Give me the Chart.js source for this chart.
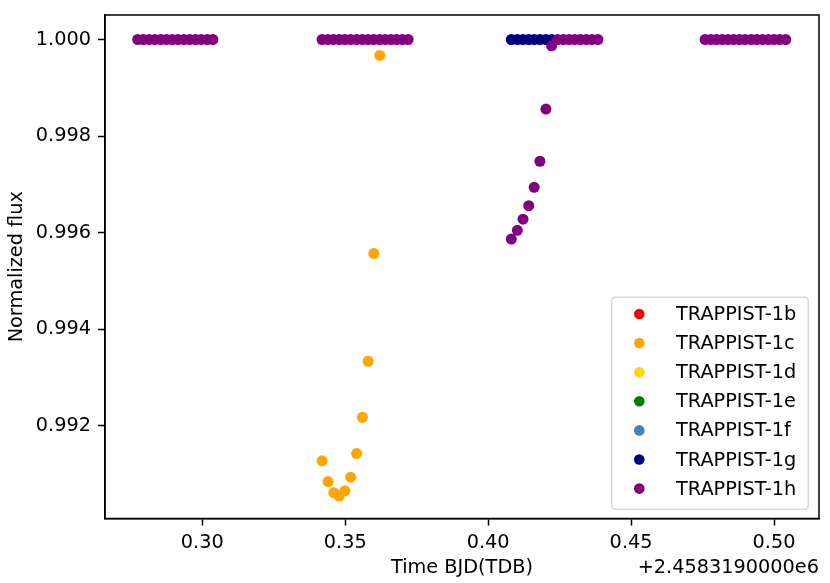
<!DOCTYPE html>
<html>
<head>
<meta charset="utf-8">
<script src="https://cdn.jsdelivr.net/npm/chart.js@4.4.1/dist/chart.umd.min.js"></script>
<style>
html,body{margin:0;padding:0;background:#fff;}
#c{display:block;}
</style>
</head>
<body>
<canvas id="c" width="830" height="583"></canvas>
<script>
// ---- Data (time offsets from 2458319.0 BJD, normalized flux) ----
const seriesNames = ["TRAPPIST-1b","TRAPPIST-1c","TRAPPIST-1d","TRAPPIST-1e","TRAPPIST-1f","TRAPPIST-1g","TRAPPIST-1h"];
const seriesColors = ["#ff0000","#ffa500","#ffd700","#008000","#4682b4","#000080","#800080"];

const bX = [], bY = [];
const cX = [0.3419,0.3440,0.3460,0.3479,0.3499,0.3519,0.3540,0.3560,0.3580,0.3600,0.3621];
const cY = [0.99128,0.99085,0.99062,0.99055,0.99066,0.99094,0.99143,0.99218,0.99334,0.99557,0.99967];
const dX = [], dY = [];
const eX = [], eY = [];
const fX = [], fY = [];
const gX = [0.4081,0.4102,0.4122,0.4142,0.4161,0.4181,0.4202,0.4222];
const gY = [1.0,1.0,1.0,1.0,1.0,1.0,1.0,1.0];
const hX = [
  0.2774,0.2794,0.2814,0.2834,0.2855,0.2875,0.2895,0.2915,0.2936,0.2956,0.2976,0.2996,0.3017,0.3037,
  0.3419,0.3439,0.3459,0.3479,0.3499,0.3519,0.3540,0.3560,0.3580,0.3600,0.3620,0.3640,0.3660,0.3680,0.3700,0.3720,
  0.4081,0.4102,0.4122,0.4142,0.4161,0.4181,0.4202,0.4222,
  0.4243,0.4263,0.4283,0.4303,0.4323,0.4343,0.4363,0.4384,
  0.4759,0.4779,0.4799,0.4819,0.4839,0.4859,0.4879,0.4899,0.4920,0.4940,0.4960,0.4980,0.5000,0.5020,0.5041
];
const hY = [
  1.0,1.0,1.0,1.0,1.0,1.0,1.0,1.0,1.0,1.0,1.0,1.0,1.0,1.0,
  1.0,1.0,1.0,1.0,1.0,1.0,1.0,1.0,1.0,1.0,1.0,1.0,1.0,1.0,1.0,1.0,
  0.99587,0.99605,0.99628,0.99656,0.99694,0.99748,0.99856,0.99987,
  1.0,1.0,1.0,1.0,1.0,1.0,1.0,1.0,
  1.0,1.0,1.0,1.0,1.0,1.0,1.0,1.0,1.0,1.0,1.0,1.0,1.0,1.0,1.0
];

const xTicks = [0.30,0.35,0.40,0.45,0.50];
const yTicks = [0.992,0.994,0.996,0.998,1.000];
const xTitle = "Time BJD(TDB)";
const yTitle = "Normalized flux";
const offsetText = "+2.4583190000e6";

// ---- Build chart ----
const allX = [bX,cX,dX,eX,fX,gX,hX];
const allY = [bY,cY,dY,eY,fY,gY,hY];
const FONT = 'DejaVu Sans';
const FS = 19.3;

const datasets = seriesNames.map((name,i)=>({
  label: name,
  data: allX[i].map((x,k)=>({x:x, y:allY[i][k]})),
  backgroundColor: seriesColors[i],
  borderColor: seriesColors[i],
  pointRadius: 5.5,
  pointBorderWidth: 0,
  pointHoverRadius: 5.5,
  order: seriesNames.length - i
}));

const L = 105, R = 819, T = 15, B = 518.5, W = 830, H = 583;

const framePlugin = {
  id: 'frame',
  afterDraw(chart){
    const ctx = chart.ctx, a = chart.chartArea;
    ctx.save();
    // frame
    ctx.strokeStyle = '#000';
    ctx.lineWidth = 1.5;
    ctx.strokeRect(a.left, a.top, a.right - a.left, a.bottom - a.top);
    // axis titles
    ctx.fillStyle = '#000';
    ctx.font = FS + 'px "' + FONT + '"';
    ctx.textAlign = 'center';
    ctx.textBaseline = 'middle';
    ctx.fillText(xTitle, (a.left + a.right)/2, 568);
    ctx.textAlign = 'right';
    ctx.fillText(offsetText, a.right, 568);
    ctx.save();
    ctx.translate(17, (a.top + a.bottom)/2);
    ctx.rotate(-Math.PI/2);
    ctx.textAlign = 'center';
    ctx.fillText(yTitle, 0, 0);
    ctx.restore();
    // legend
    const lx = 611.7, ly = 297.3, lw = 196.6, lh = 212, r = 4;
    ctx.beginPath();
    ctx.moveTo(lx + r, ly);
    ctx.lineTo(lx + lw - r, ly);
    ctx.quadraticCurveTo(lx + lw, ly, lx + lw, ly + r);
    ctx.lineTo(lx + lw, ly + lh - r);
    ctx.quadraticCurveTo(lx + lw, ly + lh, lx + lw - r, ly + lh);
    ctx.lineTo(lx + r, ly + lh);
    ctx.quadraticCurveTo(lx, ly + lh, lx, ly + lh - r);
    ctx.lineTo(lx, ly + r);
    ctx.quadraticCurveTo(lx, ly, lx + r, ly);
    ctx.closePath();
    ctx.fillStyle = 'rgba(255,255,255,0.8)';
    ctx.fill();
    ctx.strokeStyle = '#d8d8d8';
    ctx.lineWidth = 1.5;
    ctx.stroke();
    ctx.textAlign = 'left';
    ctx.textBaseline = 'middle';
    chart.data.datasets.forEach((ds, i) => {
      const yy = 314 + i * 29.1;
      ctx.beginPath();
      ctx.arc(639.3, yy, 5.3, 0, Math.PI * 2);
      ctx.fillStyle = ds.backgroundColor;
      ctx.fill();
      ctx.fillStyle = '#000';
      ctx.fillText(ds.label, 676, yy + 1);
    });
    ctx.restore();
  }
};

new Chart(document.getElementById('c'), {
  type: 'scatter',
  data: { datasets },
  options: {
    responsive: false,
    animation: false,
    devicePixelRatio: 1,
    layout: { padding: { left: 0, right: W - R, top: T, bottom: 0 } },
    plugins: { legend: { display: false }, tooltip: { enabled: false } },
    scales: {
      x: {
        type: 'linear',
        min: 0.26596, max: 0.51574,
        afterBuildTicks(s){ s.ticks = xTicks.map(v=>({value:v})); },
        afterFit(s){ s.height = H - B; s.paddingLeft = 0; s.paddingRight = 0; },
        grid: { display: true, drawOnChartArea: false, drawTicks: true, tickLength: 7, tickWidth: 1.5, tickColor: '#000' },
        border: { display: true, color: '#000', width: 1.5 },
        ticks: {
          padding: 6,
          color: '#000',
          maxRotation: 0,
          autoSkip: false,
          font: { family: FONT, size: FS },
          callback: v => Number(v).toFixed(2)
        }
      },
      y: {
        type: 'linear',
        min: 0.990085, max: 1.000507,
        afterBuildTicks(s){ s.ticks = yTicks.map(v=>({value:v})); },
        afterFit(s){ s.width = L; s.paddingTop = 0; s.paddingBottom = 0; },
        grid: { display: true, drawOnChartArea: false, drawTicks: true, tickLength: 7, tickWidth: 1.5, tickColor: '#000' },
        border: { display: true, color: '#000', width: 1.5 },
        ticks: {
          padding: 7,
          color: '#000',
          autoSkip: false,
          font: { family: FONT, size: FS },
          callback: v => Number(v).toFixed(3)
        }
      }
    }
  },
  plugins: [framePlugin]
});
</script>
</body>
</html>
